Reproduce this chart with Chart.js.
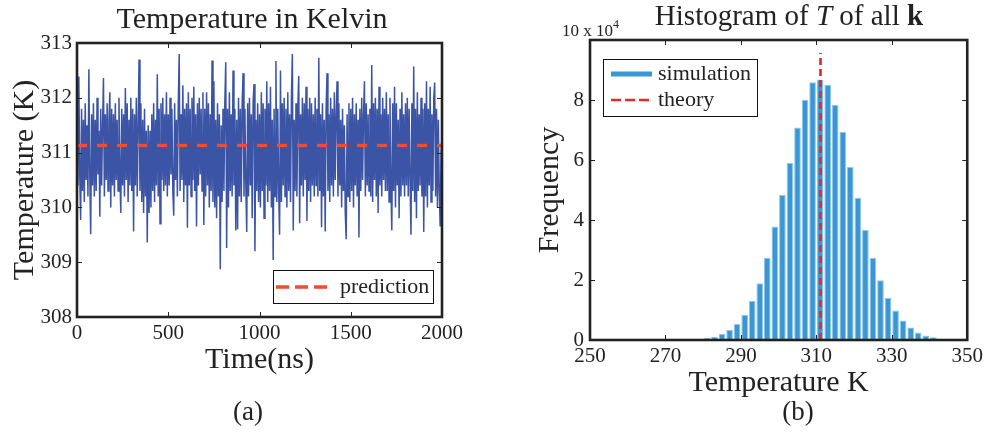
<!DOCTYPE html>
<html>
<head>
<meta charset="utf-8">
<script src="https://cdn.jsdelivr.net/npm/chart.js@4.4.1/dist/chart.umd.min.js"></script>
<style>
body{margin:0;background:#fff;font-family:'Liberation Serif','Times New Roman',serif;color:#222;}
#page{position:relative;width:987px;height:436px;overflow:hidden;}
#wrapA{position:absolute;left:0;top:0;width:480px;height:436px;}
#wrapB{position:absolute;left:520px;top:0;width:467px;height:436px;}
.txt{position:absolute;white-space:nowrap;line-height:1;}
.mid{transform:translateX(-50%);}
</style>
</head>
<body>
<div id="page">
  <div id="wrapA"><canvas id="chartA" width="480" height="436"></canvas></div>
  <div id="wrapB"><canvas id="chartB" width="467" height="436"></canvas></div>
  <div class="txt mid" style="left:252px;top:3px;font-size:30px;">Temperature in Kelvin</div>
  <div class="txt mid" style="left:789px;top:1px;font-size:29px;">Histogram of <i>T</i> of all <b>k</b></div>
  <div class="txt" style="left:562px;top:22px;font-size:17px;">10 x 10<span style="font-size:12px;position:relative;top:-8px;">4</span></div>
  <div class="txt mid" style="left:248px;top:398px;font-size:27px;">(a)</div>
  <div class="txt mid" style="left:798px;top:398px;font-size:27px;">(b)</div>
</div>
<script>
// (a) temperature trace, one sample every 5 ns (one row = 100 ns)
var tempK = [
  311.2, 310.4, 312.39, 310.6, 309.77, 311.8, 310.3, 311.6, 310.1, 311.9, 310.5, 311.5, 310.2, 312.52, 310.6, 309.51, 311.7, 310.4, 311.9, 310.2,
  311.6, 310.3, 312.0, 310.6, 311.4, 309.83, 311.8, 310.4, 311.5, 312.36, 310.2, 311.7, 310.5, 311.9, 310.3, 311.6, 312.1, 310.0, 311.8, 310.4,
  311.7, 310.2, 311.9, 310.5, 311.6, 310.3, 312.0, 310.6, 309.9, 311.8, 310.4, 311.7, 310.2, 312.18, 310.5, 311.9, 310.1, 311.6, 310.4, 312.0,
  310.3, 311.8, 309.56, 311.7, 310.4, 312.0, 310.2, 311.5, 312.7, 310.3, 311.9, 310.1, 311.6, 309.9, 311.8, 310.2, 311.4, 309.36, 311.5, 309.9,
  311.4, 310.0, 311.7, 310.3, 311.9, 310.1, 311.6, 310.4, 312.43, 310.2, 311.8, 309.7, 311.9, 310.5, 312.0, 310.3, 311.7, 310.4, 312.1, 310.2,
  311.7, 310.4, 312.0, 310.6, 311.8, 310.3, 309.85, 311.9, 310.5, 311.6, 310.2, 311.9, 312.8, 310.3, 311.7, 310.5, 312.23, 310.1, 311.8, 310.4,
  311.9, 309.63, 312.1, 310.4, 311.8, 310.2, 312.0, 310.5, 312.2, 310.3, 311.7, 309.65, 311.9, 310.4, 312.0, 310.6, 311.8, 310.3, 312.1, 309.68,
  311.8, 310.2, 312.1, 310.4, 311.9, 310.0, 311.7, 310.3, 312.68, 310.1, 312.3, 310.0, 311.6, 309.8, 311.9, 310.2, 311.7, 308.87, 311.5, 310.1,
  311.8, 310.3, 311.9, 312.65, 309.26, 311.8, 310.0, 312.1, 310.3, 311.7, 310.2, 312.5, 310.4, 311.8, 309.58, 311.6, 309.6, 312.0, 310.2, 311.8,
  310.1, 311.9, 312.45, 310.2, 311.8, 310.4, 309.55, 311.9, 310.2, 312.0, 310.4, 311.7, 309.8, 311.9, 312.25, 309.2, 311.6, 310.3, 311.9, 310.1,
  311.7, 310.0, 312.1, 310.3, 311.9, 309.8, 311.8, 310.4, 312.3, 310.1, 311.9, 310.3, 312.2, 310.0, 311.6, 309.04, 311.8, 310.2, 312.67, 310.1,
  311.8, 310.3, 309.5, 312.5, 310.1, 311.9, 310.4, 312.0, 310.2, 311.8, 310.0, 312.1, 310.3, 311.7, 310.1, 312.0, 312.8, 309.58, 311.6, 310.3,
  311.9, 310.2, 311.8, 312.4, 309.71, 311.7, 310.4, 312.0, 310.2, 311.9, 310.5, 312.2, 309.75, 311.8, 310.3, 312.0, 310.1, 311.9, 310.4, 311.7,
  310.2, 312.0, 310.4, 311.8, 310.2, 312.73, 310.3, 311.7, 309.64, 311.9, 310.2, 311.6, 309.56, 311.8, 312.45, 310.3, 311.7, 310.1, 312.0, 310.4,
  311.8, 310.2, 312.1, 310.5, 311.7, 312.3, 310.2, 311.9, 310.4, 311.6, 310.0, 311.8, 310.3, 311.5, 309.9, 309.42, 311.7, 310.2, 311.9, 310.1,
  311.8, 310.3, 312.0, 310.0, 311.7, 310.4, 311.9, 310.2, 311.6, 309.45, 311.8, 310.3, 312.0, 310.5, 311.7, 312.3, 310.2, 311.9, 310.4, 311.7,
  310.3, 311.8, 310.2, 312.6, 310.1, 311.9, 310.5, 312.0, 310.2, 311.8, 309.9, 312.2, 310.4, 311.7, 310.2, 312.0, 310.5, 311.8, 310.3, 312.1,
  310.3, 311.7, 310.1, 312.0, 310.4, 309.58, 311.9, 310.3, 312.2, 310.0, 311.9, 310.4, 311.6, 309.8, 311.8, 310.2, 312.1, 310.4, 311.7, 310.2,
  311.9, 310.4, 312.0, 310.2, 311.8, 310.5, 309.5, 311.9, 310.3, 312.57, 310.1, 311.8, 309.8, 312.1, 310.3, 311.7, 310.4, 312.0, 310.2, 311.8,
  309.55, 311.9, 310.2, 312.3, 310.0, 311.8, 310.4, 312.2, 310.1, 311.7, 310.3, 312.0, 312.28, 310.2, 311.8, 310.0, 311.6, 310.3, 309.65, 311.0,
  311.3
];
var sampleStepNs = 5;
var predictionK = 311.13;
var timeRange = [0, 2000];
var timeTickStep = 500;
var tempRange = [308, 313];

// (b) histogram, bin centres in K and counts in units of 10^4
var binCenters = [281, 283, 285, 287, 289, 291, 293, 295, 297, 299, 301, 303, 305, 307, 309, 311,
  313, 315, 317, 319, 321, 323, 325, 327, 329, 331, 333, 335, 337, 339, 341, 343];
var binCounts = [0.07, 0.11, 0.20, 0.33, 0.53, 0.84, 1.30, 1.89, 2.74, 3.78, 4.83, 5.90, 7.08, 8.01, 8.59, 8.68,
  8.50, 7.83, 6.94, 5.77, 4.74, 3.67, 2.73, 1.99, 1.41, 0.98, 0.65, 0.42, 0.25, 0.15, 0.09, 0.04];
var theoryK = 311.1;
var theoryTop = 9.57;
var histXRange = [250, 350];
var histYRange = [0, 10];

var ink = '#222';
var serif = "'Liberation Serif', 'Times New Roman', serif";
Chart.defaults.font.family = serif;
Chart.defaults.color = ink;

// box around plot area plus small inward ticks on all four sides
var frameLines = {
  id: 'frameLines',
  afterDatasetsDraw: function(chart) {
    var ctx = chart.ctx, a = chart.chartArea;
    var xs = chart.scales.x, ys = chart.scales.y;
    ctx.save();
    ctx.strokeStyle = ink;
    ctx.lineWidth = 1;
    ctx.beginPath();
    xs.ticks.forEach(function(t) {
      var px = Math.round(xs.getPixelForValue(t.value)) + 0.5;
      ctx.moveTo(px, a.bottom); ctx.lineTo(px, a.bottom - 5);
      ctx.moveTo(px, a.top); ctx.lineTo(px, a.top + 5);
    });
    ys.ticks.forEach(function(t) {
      var py = Math.round(ys.getPixelForValue(t.value)) + 0.5;
      ctx.moveTo(a.left, py); ctx.lineTo(a.left + 5, py);
      ctx.moveTo(a.right, py); ctx.lineTo(a.right - 5, py);
    });
    ctx.stroke();
    ctx.lineWidth = 2.6;
    ctx.strokeRect(a.left, a.top, a.right - a.left, a.bottom - a.top);
    ctx.restore();
  }
};

// legend drawn as a framed box inside the plot
var boxLegend = {
  id: 'boxLegend',
  afterDraw: function(chart, args, opts) {
    var ctx = chart.ctx;
    ctx.save();
    ctx.fillStyle = '#fff';
    ctx.fillRect(opts.left, opts.top, opts.width, opts.height);
    ctx.strokeStyle = '#111';
    ctx.lineWidth = 1;
    ctx.strokeRect(opts.left + 0.5, opts.top + 0.5, opts.width, opts.height);
    opts.rows.forEach(function(r) {
      var ds = chart.data.datasets[r.dataset];
      ctx.beginPath();
      ctx.setLineDash(r.dash || []);
      ctx.lineWidth = r.lineWidth;
      ctx.strokeStyle = r.color || ds.borderColor;
      ctx.moveTo(r.x0, r.y);
      ctx.lineTo(r.x1, r.y);
      ctx.stroke();
      ctx.setLineDash([]);
      ctx.fillStyle = ink;
      ctx.font = '22px ' + serif;
      ctx.textBaseline = 'middle';
      ctx.fillText(ds.label, r.tx, r.y);
    });
    ctx.restore();
  }
};

function plainTick(v) { return String(v); }

var tempPoints = tempK.map(function(v, i) { return {x: i * sampleStepNs, y: v}; });

new Chart(document.getElementById('chartA'), {
  type: 'line',
  data: {
    datasets: [{
      label: 'prediction',
      data: [{x: timeRange[0], y: predictionK}, {x: timeRange[1], y: predictionK}],
      borderColor: '#f04e30',
      borderWidth: 3.3,
      borderDash: [10, 10],
      pointRadius: 0,
      order: 0
    }, {
      label: 'temperature',
      data: tempPoints,
      borderColor: '#3b54a5',
      borderWidth: 1.5,
      pointRadius: 0,
      tension: 0,
      order: 1
    }]
  },
  options: {
    responsive: false,
    animation: false,
    layout: {padding: {top: 43, right: 38, bottom: 55, left: 0}},
    plugins: {
      legend: {display: false},
      tooltip: {enabled: false},
      boxLegend: {
        left: 273, top: 270, width: 160, height: 33,
        rows: [{dataset: 0, y: 287, x0: 276, x1: 328, tx: 340, lineWidth: 3.3, dash: [13, 6]}]
      }
    },
    scales: {
      x: {
        type: 'linear', min: timeRange[0], max: timeRange[1],
        ticks: {stepSize: timeTickStep, padding: 4, font: {size: 21}, callback: plainTick},
        grid: {display: false, drawTicks: false},
        border: {display: false},
        title: {display: true, text: 'Time(ns)', font: {size: 30}, padding: {top: 0, bottom: 3}},
        afterFit: function(s) { s.height = 64; }
      },
      y: {
        min: tempRange[0], max: tempRange[1],
        ticks: {stepSize: 1, padding: 5, font: {size: 21}, callback: plainTick},
        grid: {display: false, drawTicks: false},
        border: {display: false},
        title: {display: true, text: 'Temperature (K)', font: {size: 30}, padding: {top: 7, bottom: 0}},
        afterFit: function(s) { s.width = 77; }
      }
    }
  },
  plugins: [frameLines, boxLegend]
});

var histPoints = binCenters.map(function(c, i) { return {x: c, y: binCounts[i]}; });

new Chart(document.getElementById('chartB'), {
  type: 'bar',
  data: {
    datasets: [{
      type: 'line',
      label: 'theory',
      data: [{x: theoryK, y: 0}, {x: theoryK, y: theoryTop}],
      borderColor: '#e8282e',
      borderWidth: 2.7,
      borderDash: [7, 4],
      pointRadius: 0,
      order: 0
    }, {
      type: 'bar',
      label: 'simulation',
      data: histPoints,
      backgroundColor: '#3a97d4',
      borderColor: '#8fc6ea',
      borderWidth: 1,
      barPercentage: 0.88,
      categoryPercentage: 1,
      order: 1
    }]
  },
  options: {
    responsive: false,
    animation: false,
    layout: {padding: {top: 40, right: 15, bottom: 33, left: 0}},
    plugins: {
      legend: {display: false},
      tooltip: {enabled: false},
      boxLegend: {
        left: 83, top: 59, width: 154, height: 57,
        rows: [
          {dataset: 1, y: 74, x0: 91, x1: 132, tx: 138, lineWidth: 5, color: '#3a97d4'},
          {dataset: 0, y: 100, x0: 91, x1: 132, tx: 138, lineWidth: 2.7, dash: [10, 4]}
        ]
      }
    },
    scales: {
      x: {
        type: 'linear', min: histXRange[0], max: histXRange[1], offset: false,
        ticks: {stepSize: 20, padding: 4, font: {size: 21}, callback: plainTick},
        grid: {display: false, drawTicks: false},
        border: {display: false},
        title: {display: true, text: 'Temperature K', font: {size: 30}, padding: {top: 0, bottom: 2}},
        afterFit: function(s) { s.height = 63; }
      },
      y: {
        min: histYRange[0], max: histYRange[1],
        ticks: {stepSize: 2, padding: 6, font: {size: 21},
          callback: function(v) { return v === histYRange[1] ? '' : String(v); }},
        grid: {display: false, drawTicks: false},
        border: {display: false},
        title: {display: true, text: 'Frequency', font: {size: 30}, padding: {top: 12, bottom: 0}},
        afterFit: function(s) { s.width = 70; }
      }
    }
  },
  plugins: [frameLines, boxLegend]
});
</script>
</body>
</html>
